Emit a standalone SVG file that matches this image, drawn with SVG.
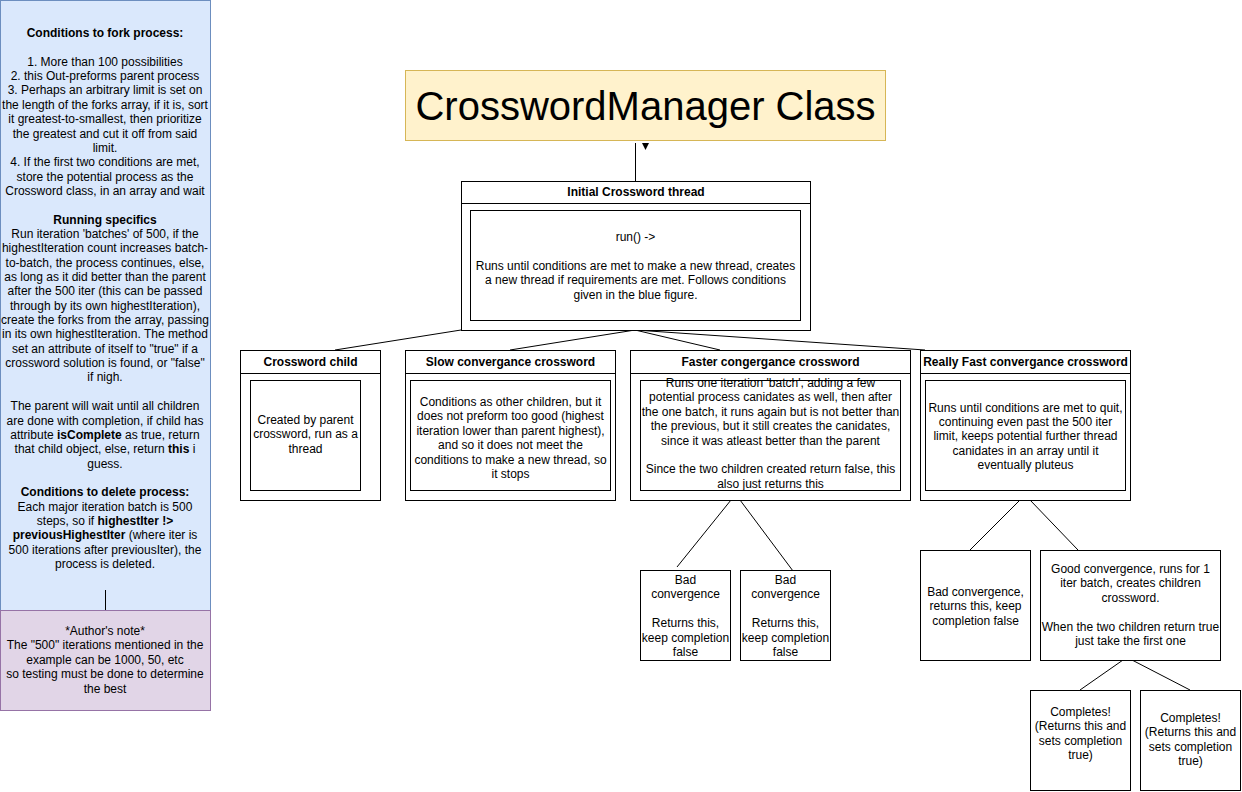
<svg xmlns="http://www.w3.org/2000/svg" width="1242" height="792" viewBox="0 0 1242 792">
<style>
  text { font-family: "Liberation Sans", Arial, Helvetica, sans-serif; font-size: 12px; fill: #000; text-anchor: middle; }
  .b { font-weight: bold; }
  .box { fill: #fff; stroke: #000; stroke-width: 1; }
  .edge { fill: none; stroke: #000; stroke-width: 1; }
  .title { font-size: 40px; }
</style>
<rect x="0" y="0" width="1242" height="792" fill="#fff"/>

<g id="conditions-note">
  <rect x="0.5" y="0.5" width="210" height="610" fill="#dae8fc" stroke="#6c8ebf"/>
  <text x="105" y="37" class="b">Conditions to fork process:</text>
  <text x="105" y="65.7">1. More than 100 possibilities</text>
  <text x="105" y="80">2. this Out-preforms parent process</text>
  <text x="105" y="94.4">3. Perhaps an arbitrary limit is set on</text>
  <text x="105" y="108.8">the length of the forks array, if it is, sort</text>
  <text x="105" y="123.1">it greatest-to-smallest, then prioritize</text>
  <text x="105" y="137.5">the greatest and cut it off from said</text>
  <text x="105" y="151.8">limit.</text>
  <text x="105" y="166.2">4. If the first two conditions are met,</text>
  <text x="105" y="180.5">store the potential process as the</text>
  <text x="105" y="194.9">Crossword class, in an array and wait</text>
  <text x="105" y="223.6" class="b">Running specifics</text>
  <text x="105" y="237.9">Run iteration 'batches' of 500, if the</text>
  <text x="105" y="252.3">highestIteration count increases batch-</text>
  <text x="105" y="266.6">to-batch, the process continues, else,</text>
  <text x="105" y="281">as long as it did better than the parent</text>
  <text x="105" y="295.3">after the 500 iter (this can be passed</text>
  <text x="105" y="309.7">through by its own highestIteration),</text>
  <text x="105" y="324">create the forks from the array, passing</text>
  <text x="105" y="338.4">in its own highestIteration. The method</text>
  <text x="105" y="352.7">set an attribute of itself to "true" if a</text>
  <text x="105" y="367.1">crossword solution is found, or "false"</text>
  <text x="105" y="381.4">if nigh.</text>
  <text x="105" y="410.1">The parent will wait until all children</text>
  <text x="105" y="424.5">are done with completion, if child has</text>
  <text x="105" y="438.8">attribute <tspan class="b">isComplete</tspan> as true, return</text>
  <text x="105" y="453.2">that child object, else, return <tspan class="b">this</tspan> i</text>
  <text x="105" y="467.5">guess.</text>
  <text x="105" y="496.2" class="b">Conditions to delete process:</text>
  <text x="105" y="510.6">Each major iteration batch is 500</text>
  <text x="105" y="524.9">steps, so if <tspan class="b">highestIter !&gt;</tspan></text>
  <text x="105" y="539.3"><tspan class="b">previousHighestIter</tspan> (where iter is</text>
  <text x="105" y="553.6">500 iterations after previousIter), the</text>
  <text x="105" y="568">process is deleted.</text>
</g>

<g id="author-note">
  <rect x="0.5" y="610.5" width="210" height="100" fill="#e1d5e7" stroke="#9673a6"/>
  <text x="105" y="635">*Author's note*</text>
  <text x="105" y="649.4">The "500" iterations mentioned in the</text>
  <text x="105" y="663.8">example can be 1000, 50, etc</text>
  <text x="105" y="678.2">so testing must be done to determine</text>
  <text x="105" y="692.6">the best</text>
</g>

<g id="connectors">
  <line class="edge" x1="105.5" y1="590" x2="105.5" y2="610"/>
  <line class="edge" x1="635.5" y1="143" x2="635.5" y2="181"/>
  <polygon points="642,143 649,143 645.5,150" fill="#000"/>
  <line class="edge" x1="461" y1="330" x2="335" y2="350"/>
  <line class="edge" x1="635" y1="330" x2="510" y2="350"/>
  <line class="edge" x1="635" y1="330" x2="720" y2="350"/>
  <line class="edge" x1="635" y1="330" x2="925" y2="350"/>
  <line class="edge" x1="731" y1="500" x2="677" y2="567"/>
  <line class="edge" x1="740" y1="500" x2="793" y2="571"/>
  <line class="edge" x1="1020" y1="500" x2="970" y2="550"/>
  <line class="edge" x1="1030" y1="500" x2="1078" y2="550"/>
  <line class="edge" x1="1123" y1="660" x2="1080" y2="690"/>
  <line class="edge" x1="1132" y1="660" x2="1190" y2="690"/>
</g>

<g id="title">
  <rect x="405.5" y="70.5" width="480" height="70" fill="#fff2cc" stroke="#d6b656"/>
  <text x="645.5" y="120" class="title">CrosswordManager Class</text>
</g>

<g id="initial-thread">
  <rect class="box" x="461.5" y="181.5" width="349" height="149"/>
  <line class="edge" x1="461.5" y1="203.5" x2="810.5" y2="203.5"/>
  <text x="636" y="196" class="b">Initial Crossword thread</text>
  <rect class="box" x="470.5" y="210.5" width="330" height="110"/>
  <text x="635.5" y="241">run() -&gt;</text>
  <text x="635.5" y="269.8">Runs until conditions are met to make a new thread, creates</text>
  <text x="635.5" y="284.2">a new thread if requirements are met. Follows conditions</text>
  <text x="635.5" y="298.6">given in the blue figure.</text>
</g>

<g id="crossword-child">
  <rect class="box" x="240.5" y="350.5" width="140" height="150"/>
  <line class="edge" x1="240.5" y1="373.5" x2="380.5" y2="373.5"/>
  <text x="310.5" y="366" class="b">Crossword child</text>
  <rect class="box" x="250.5" y="380.5" width="110" height="110"/>
  <text x="305.5" y="424">Created by parent</text>
  <text x="305.5" y="438.4">crossword, run as a</text>
  <text x="305.5" y="452.8">thread</text>
</g>

<g id="slow-convergance">
  <rect class="box" x="405.5" y="350.5" width="210" height="150"/>
  <line class="edge" x1="405.5" y1="373.5" x2="615.5" y2="373.5"/>
  <text x="510.5" y="366" class="b">Slow convergance crossword</text>
  <rect class="box" x="410.5" y="380.5" width="200" height="110"/>
  <text x="510.5" y="406">Conditions as other children, but it</text>
  <text x="510.5" y="420.4">does not preform too good (highest</text>
  <text x="510.5" y="434.8">iteration lower than parent highest),</text>
  <text x="510.5" y="449.2">and so it does not meet the</text>
  <text x="510.5" y="463.6">conditions to make a new thread, so</text>
  <text x="510.5" y="478">it stops</text>
</g>

<g id="faster-congergance">
  <rect class="box" x="630.5" y="350.5" width="280" height="150"/>
  <line class="edge" x1="630.5" y1="373.5" x2="910.5" y2="373.5"/>
  <text x="770.5" y="366" class="b">Faster congergance crossword</text>
  <rect class="box" x="640.5" y="380.5" width="260" height="110"/>
  <text x="770.5" y="387">Runs one iteration 'batch', adding a few</text>
  <text x="770.5" y="401.4">potential process canidates as well, then after</text>
  <text x="770.5" y="415.8">the one batch, it runs again but is not better than</text>
  <text x="770.5" y="430.2">the previous, but it still creates the canidates,</text>
  <text x="770.5" y="444.6">since it was atleast better than the parent</text>
  <text x="770.5" y="473.4">Since the two children created return false, this</text>
  <text x="770.5" y="487.8">also just returns this</text>
</g>

<g id="really-fast-convergance">
  <rect class="box" x="920.5" y="350.5" width="210" height="150"/>
  <line class="edge" x1="920.5" y1="373.5" x2="1130.5" y2="373.5"/>
  <text x="1025.5" y="366" class="b">Really Fast convergance crossword</text>
  <rect class="box" x="925.5" y="380.5" width="200" height="110"/>
  <text x="1025.5" y="411.5">Runs until conditions are met to quit,</text>
  <text x="1025.5" y="426">continuing even past the 500 iter</text>
  <text x="1025.5" y="440.4">limit, keeps potential further thread</text>
  <text x="1025.5" y="454.8">canidates in an array until it</text>
  <text x="1025.5" y="469.2">eventually pluteus</text>
</g>

<g id="bad-convergence-1">
  <rect class="box" x="640.5" y="570.5" width="90" height="90"/>
  <text x="685.5" y="584">Bad</text>
  <text x="685.5" y="598.4">convergence</text>
  <text x="685.5" y="627.2">Returns this,</text>
  <text x="685.5" y="641.6">keep completion</text>
  <text x="685.5" y="656">false</text>
</g>

<g id="bad-convergence-2">
  <rect class="box" x="740.5" y="570.5" width="90" height="90"/>
  <text x="785.5" y="584">Bad</text>
  <text x="785.5" y="598.4">convergence</text>
  <text x="785.5" y="627.2">Returns this,</text>
  <text x="785.5" y="641.6">keep completion</text>
  <text x="785.5" y="656">false</text>
</g>

<g id="bad-convergence-3">
  <rect class="box" x="920.5" y="550.5" width="110" height="110"/>
  <text x="975.5" y="596">Bad convergence,</text>
  <text x="975.5" y="610.4">returns this, keep</text>
  <text x="975.5" y="624.8">completion false</text>
</g>

<g id="good-convergence">
  <rect class="box" x="1040.5" y="550.5" width="180" height="110"/>
  <text x="1130.5" y="573">Good convergence, runs for 1</text>
  <text x="1130.5" y="587.4">iter batch, creates children</text>
  <text x="1130.5" y="601.8">crossword.</text>
  <text x="1130.5" y="630.6">When the two children return true</text>
  <text x="1130.5" y="645">just take the first one</text>
</g>

<g id="completes-1">
  <rect class="box" x="1030.5" y="690.5" width="100" height="100"/>
  <text x="1080.5" y="716">Completes!</text>
  <text x="1080.5" y="730.4">(Returns this and</text>
  <text x="1080.5" y="744.8">sets completion</text>
  <text x="1080.5" y="759.2">true)</text>
</g>

<g id="completes-2">
  <rect class="box" x="1140.5" y="690.5" width="100" height="100"/>
  <text x="1190.5" y="722">Completes!</text>
  <text x="1190.5" y="736.4">(Returns this and</text>
  <text x="1190.5" y="750.8">sets completion</text>
  <text x="1190.5" y="765.2">true)</text>
</g>
</svg>
